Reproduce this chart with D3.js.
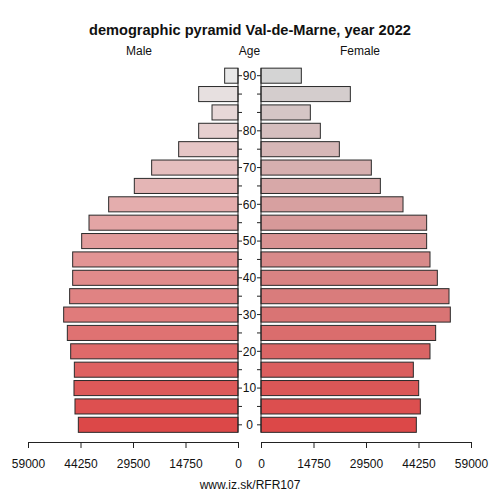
<!DOCTYPE html>
<html>
<head>
<meta charset="utf-8">
<script src="https://cdn.jsdelivr.net/npm/d3@7"></script>
<style>
  body { margin: 0; background: #fff; }
  text { font-family: "Liberation Sans", Arial, sans-serif; fill: #111; }
</style>
</head>
<body>
<svg id="chart" width="500" height="500"></svg>
<script>
// age groups, bottom to top
const ageGroups = ["0","5","10","15","20","25","30","35","40","45","50","55","60","65","70","75","80","85","88","90"];
const ageTickLabels = ["0","","10","","20","","30","","40","","50","","60","","70","","80","","","90"];
const male = [44860,45800,46080,45980,47010,47950,48980,47300,46450,46450,43920,41860,36340,29130,24260,16670,11050,7300,11050,3750];
const female = [43640,44770,44300,42800,47480,49070,53190,52820,49540,47480,46540,46540,39900,33530,31000,22010,16670,13860,25100,11330];
const valueTicks = [0,14750,29500,44250,59000];

const svg = d3.select("#chart");

const y = d3.scaleBand()
    .domain(d3.range(ageGroups.length))
    .range([434, 66.5])
    .paddingInner(0.18)
    .paddingOuter(0.09);

const xMale = d3.scaleLinear().domain([0, 59000]).range([238, 28]);
const xFemale = d3.scaleLinear().domain([0, 59000]).range([261, 471]);

const n = ageGroups.length - 1;
const colMale = i => d3.interpolateRgb("#dc4848", "#e8e8e8")(i / n);
const colFemale = i => d3.interpolateRgb("#dc4848", "#d4d4d4")(i / n);

// title and headers
svg.append("text").attr("x", 250).attr("y", 35).attr("text-anchor", "middle")
    .style("font-size", "14.6px").style("font-weight", "bold")
    .text("demographic pyramid Val-de-Marne, year 2022");
svg.append("text").attr("x", 139).attr("y", 55).attr("text-anchor", "middle").style("font-size", "12px").text("Male");
svg.append("text").attr("x", 249.5).attr("y", 55).attr("text-anchor", "middle").style("font-size", "12px").text("Age");
svg.append("text").attr("x", 360).attr("y", 55).attr("text-anchor", "middle").style("font-size", "12px").text("Female");

// bars
svg.append("g").selectAll("rect")
    .data(male)
    .enter().append("rect")
    .attr("x", d => xMale(d))
    .attr("y", (d, i) => y(i))
    .attr("width", d => xMale(0) - xMale(d))
    .attr("height", y.bandwidth())
    .style("fill", (d, i) => colMale(i))
    .style("stroke", "#2a2a2a")
    .style("stroke-width", 1);

svg.append("g").selectAll("rect")
    .data(female)
    .enter().append("rect")
    .attr("x", xFemale(0))
    .attr("y", (d, i) => y(i))
    .attr("width", d => xFemale(d) - xFemale(0))
    .attr("height", y.bandwidth())
    .style("fill", (d, i) => colFemale(i))
    .style("stroke", "#2a2a2a")
    .style("stroke-width", 1);

// age axis: two vertical lines with inward ticks
const yTop = y(n), yBot = y(0) + y.bandwidth();
const ageAxis = svg.append("g");
ageAxis.append("line").attr("x1", 238).attr("x2", 238).attr("y1", yTop).attr("y2", yBot).style("stroke", "#222");
ageAxis.append("line").attr("x1", 261).attr("x2", 261).attr("y1", yTop).attr("y2", yBot).style("stroke", "#222");
ageGroups.forEach((a, i) => {
    const cy = y(i) + y.bandwidth() / 2;
    ageAxis.append("line").attr("x1", 238).attr("x2", 242).attr("y1", cy).attr("y2", cy).style("stroke", "#222");
    ageAxis.append("line").attr("x1", 257).attr("x2", 261).attr("y1", cy).attr("y2", cy).style("stroke", "#222");
    if (ageTickLabels[i]) {
        ageAxis.append("text").attr("x", 249.5).attr("y", cy).attr("dy", "0.35em")
            .attr("text-anchor", "middle").style("font-size", "12px").text(ageTickLabels[i]);
    }
});

// value axes
const axisY = 442;
const gL = svg.append("g").attr("transform", `translate(0,${axisY})`)
    .call(d3.axisBottom(xMale).tickValues(valueTicks).tickFormat(d3.format("d")).tickSizeOuter(0).tickSize(6));
const gR = svg.append("g").attr("transform", `translate(0,${axisY})`)
    .call(d3.axisBottom(xFemale).tickValues(valueTicks).tickFormat(d3.format("d")).tickSizeOuter(0).tickSize(6));
[gL, gR].forEach(g => {
    g.selectAll("text").style("font-size", "12px").attr("dy", "1.4em")
        .style("font-family", "Liberation Sans, Arial, sans-serif").style("fill", "#111");
    g.selectAll("line, path").style("stroke", "#222");
});

svg.append("text").attr("x", 250).attr("y", 489).attr("text-anchor", "middle")
    .style("font-size", "12px").text("www.iz.sk/RFR107");
</script>
</body>
</html>
